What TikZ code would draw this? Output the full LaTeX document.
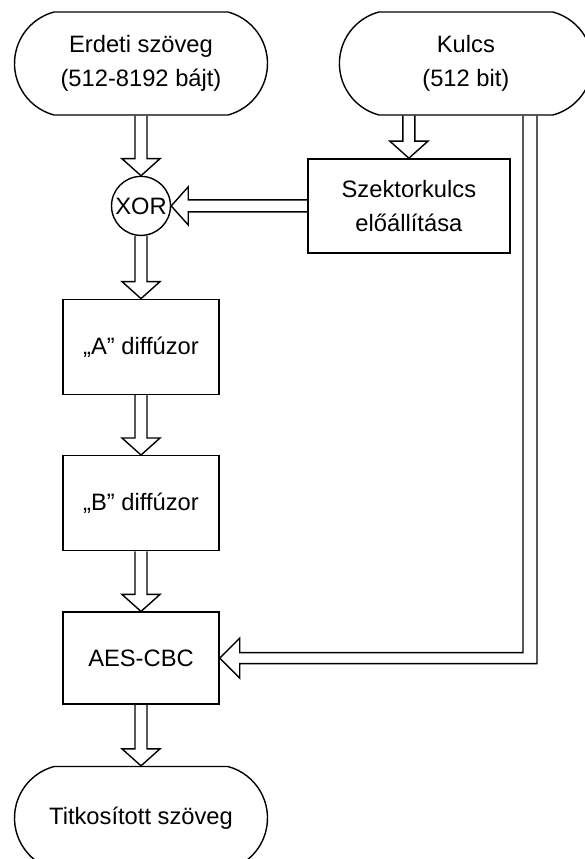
\documentclass[tikz,border=0pt]{standalone}
\usepackage{fontspec}
\setmainfont{Liberation Sans}
\usetikzlibrary{calc,positioning,shapes.misc}

\begin{document}
\begin{tikzpicture}[
  font=\fontsize{13.5}{19}\selectfont,
  line width=0.8pt,
  term/.style={draw, rounded rectangle, rounded rectangle arc length=150, minimum width=5.06cm, minimum height=2.06cm, align=center, inner sep=0pt},
  box/.style={draw, rectangle, minimum width=3.12cm, minimum height=1.9cm, align=center},
  xorc/.style={draw, circle, minimum size=1.18cm, inner sep=0pt},
  hollow/.style={draw, line join=miter, to path={
    let \p1=(\tikztostart), \p2=(\tikztotarget),
        \p3=($(\tikztotarget)!0.34cm!(\tikztostart)$) in
    ($(\p1)!0.12cm!90:(\p2)$) -- ($(\p3)!0.12cm!90:(\p2)$) -- ($(\p3)!0.38cm!90:(\p2)$)
    -- (\p2) -- ($(\p3)!0.38cm!-90:(\p2)$) -- ($(\p3)!0.12cm!-90:(\p2)$) -- ($(\p1)!0.12cm!-90:(\p2)$)}}
]
  \useasboundingbox (0,0) rectangle (11.68,-17.18);

  \node[term] (erdeti) at (2.82,-1.27) {Erdeti szöveg\\(512-8192 bájt)};
  \node[term, right=1.41cm of erdeti] (kulcs) {Kulcs\\(512 bit)};
  \node[xorc, below=1.2cm of erdeti] (xor) {XOR};
  \node[box, right=2.72cm of xor, minimum width=4.04cm, minimum height=1.88cm] (szektor) {Szektorkulcs\\előállítása};
  \node[box, below=1.25cm of xor] (diffa) {„A” diffúzor};
  \node[box, below=1.2cm of diffa] (diffb) {„B” diffúzor};
  \node[box, below=1.2cm of diffb, minimum height=1.84cm] (aes) {AES-CBC};
  \node[term, below=1.22cm of aes] (titok) {Titkosított szöveg};

  \draw[hollow] (erdeti.south) to (xor.north);
  \draw[hollow] (kulcs.south -| szektor.north) to (szektor.north);
  \draw[hollow] (szektor.west) to (xor.east);
  \draw[hollow] (xor.south) to (diffa.north);
  \draw[hollow] (diffa.south) to (diffb.north);
  \draw[hollow] (diffb.south) to (aes.north);
  \draw[hollow] (aes.south) to (titok.north);

  % key goes straight down to the AES block
  \coordinate (keyx) at (10.6,0);
  \coordinate (keyturn) at (keyx |- aes.east);
  \draw[line join=miter] ($(keyx |- kulcs.south)+(-0.14,0)$) -- ($(keyturn)+(-0.14,0.11)$)
    -- ($(aes.east)+(0.4,0.11)$) -- ($(aes.east)+(0.4,0.4)$) -- (aes.east)
    -- ($(aes.east)+(0.4,-0.4)$) -- ($(aes.east)+(0.4,-0.11)$)
    -- ($(keyturn)+(0.14,-0.11)$) -- ($(keyx |- kulcs.south)+(0.14,0)$);
\end{tikzpicture}
\end{document}
